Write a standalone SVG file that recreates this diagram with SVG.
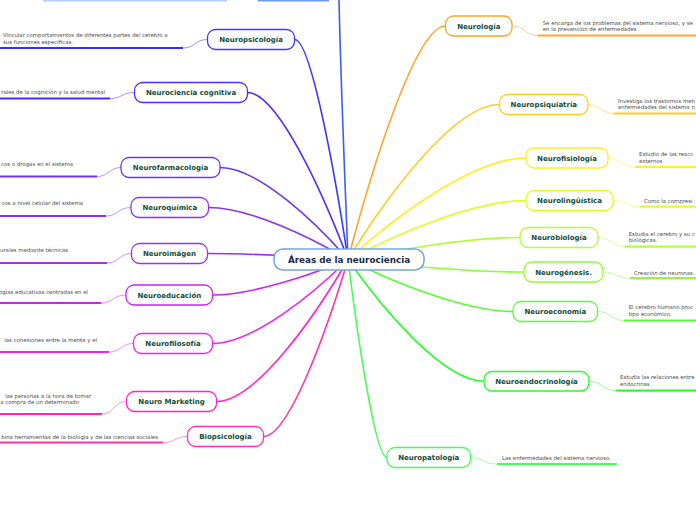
<svg xmlns="http://www.w3.org/2000/svg" width="696" height="520" viewBox="0 0 696 520">
<style>
.c{fill:none;stroke-width:1.6;stroke-linecap:round}
.u{fill:none;stroke-width:2}
.s{fill:none;stroke-width:1;opacity:0.5}
.n{fill:#fff;stroke-width:1.3}
.t{font-family:"DejaVu Sans",Verdana,sans-serif;font-weight:bold;font-size:7px;fill:#0f4c3a;text-anchor:middle}
.d{font-family:"DejaVu Sans",Verdana,sans-serif;font-size:5.4px;fill:#4a4a4a}
.e{text-anchor:end}
</style>
<rect width="696" height="520" fill="#fff"/>
<g id="connectors">
<path d="M43,0.7H227" stroke="#b5ccff" stroke-width="1.6" fill="none"/>
<path d="M258,0.7H329" stroke="#6f9bff" stroke-width="1.6" fill="none"/>
<path class="c" stroke="#3a5cff" d="M339,0 C341,90 345,180 348,259.5"/>
<path class="c" stroke="#3a3aff" d="M294.7,39.5 C310.7,39.5 334.7,171.5 348,259.5"/>
<path class="c" stroke="#4b2dff" d="M247.3,92.5 C277.5,92.5 322.8,192.7 348,259.5"/>
<path class="c" stroke="#6a35f5" d="M220,167.5 C258.4,167.5 316,222.7 348,259.5"/>
<path class="c" stroke="#8a33ee" d="M208.5,207.5 C250.4,207.5 313.1,238.7 348,259.5"/>
<path class="c" stroke="#a030ee" d="M207.5,253.5 C249.7,253.5 312.9,257.1 348,259.5"/>
<path class="c" stroke="#cc22ee" d="M212.5,295 C253.2,295 314.1,273.7 348,259.5"/>
<path class="c" stroke="#ee22ee" d="M212.5,343.5 C253.2,343.5 314.1,293.1 348,259.5"/>
<path class="c" stroke="#ff22cc" d="M216.5,401.5 C256,401.5 315.1,316.3 348,259.5"/>
<path class="c" stroke="#ff33aa" d="M263.5,436.5 C288.9,436.5 326.9,330.3 348,259.5"/>
<path class="c" stroke="#ffa526" d="M445.5,26 C416.25,26 372.4,166.3 348,259.5"/>
<path class="c" stroke="#ffcc22" d="M499.5,104.5 C454,104.5 385.9,197.5 348,259.5"/>
<path class="c" stroke="#ffee22" d="M526,158 C472.6,158 392.5,218.9 348,259.5"/>
<path class="c" stroke="#ddff22" d="M526,200.5 C472.6,200.5 392.5,235.9 348,259.5"/>
<path class="c" stroke="#b0ff33" d="M520,237.5 C468.4,237.5 391,250.7 348,259.5"/>
<path class="c" stroke="#88ff33" d="M524,272 C471.2,272 392,264.5 348,259.5"/>
<path class="c" stroke="#55ff33" d="M513,311.5 C463.5,311.5 389.3,280.3 348,259.5"/>
<path class="c" stroke="#22ff22" d="M484,381.3 C443.2,381.3 382,308.2 348,259.5"/>
<path class="c" stroke="#44ff55" d="M387,457.5 C375.3,457.5 357.8,338.7 348,259.5"/>
<!-- description links left -->
<path class="u" stroke="#3333ee" d="M0,48H183"/><path class="s" stroke="#3333ee" d="M183,48 C195,48 195,39.5 207.5,39.5"/>
<path class="u" stroke="#4b2dff" d="M0,98.5H110"/><path class="s" stroke="#4b2dff" d="M110,98.5 C122,98.5 122,92.5 134.5,92.5"/>
<path class="u" stroke="#6a35f5" d="M0,176.5H97"/><path class="s" stroke="#6a35f5" d="M97,176.5 C109,176.5 109,167.5 121,167.5"/>
<path class="u" stroke="#8a33ee" d="M0,216H106"/><path class="s" stroke="#8a33ee" d="M106,216 C118,216 118,207.5 131,207.5"/>
<path class="u" stroke="#a030ee" d="M0,263H107"/><path class="s" stroke="#a030ee" d="M107,263 C119,263 119,253.5 131.5,253.5"/>
<path class="u" stroke="#cc22ee" d="M0,303H101"/><path class="s" stroke="#cc22ee" d="M101,303 C113,303 113,295 126,295"/>
<path class="u" stroke="#ee22ee" d="M0,352H109"/><path class="s" stroke="#ee22ee" d="M109,352 C121,352 121,343.5 133.5,343.5"/>
<path class="u" stroke="#ff22cc" d="M0,414H102"/><path class="s" stroke="#ff22cc" d="M102,414 C114,414 114,401.5 126.5,401.5"/>
<path class="u" stroke="#ff33aa" d="M0,442.5H163"/><path class="s" stroke="#ff33aa" d="M163,442.5 C175,442.5 175,436.5 187.5,436.5"/>
<!-- description links right -->
<path class="s" stroke="#ffa526" d="M512,26 C525,26 525,35.5 538,35.5"/><path class="u" stroke="#ffa526" d="M538,35.5H696"/>
<path class="s" stroke="#ffcc22" d="M588,104.5 C601,104.5 601,113.5 614,113.5"/><path class="u" stroke="#ffcc22" d="M614,113.5H696"/>
<path class="s" stroke="#ffee22" d="M608,158 C621,158 621,167 635,167"/><path class="u" stroke="#ffee22" d="M635,167H696"/>
<path class="s" stroke="#ddff22" d="M613,200.5 C626,200.5 626,206.5 640,206.5"/><path class="u" stroke="#ddff22" d="M640,206.5H696"/>
<path class="s" stroke="#b0ff33" d="M598,237.5 C611,237.5 611,246.5 625,246.5"/><path class="u" stroke="#b0ff33" d="M625,246.5H696"/>
<path class="s" stroke="#88ff33" d="M603,272 C616,272 616,278 630,278"/><path class="u" stroke="#88ff33" d="M630,278H696"/>
<path class="s" stroke="#55ff33" d="M597.5,311.5 C611,311.5 611,320.5 624,320.5"/><path class="u" stroke="#55ff33" d="M624,320.5H696"/>
<path class="s" stroke="#22ff22" d="M589,381.3 C602,381.3 602,390.5 616,390.5"/><path class="u" stroke="#22ff22" d="M616,390.5H696"/>
<path class="s" stroke="#44ff55" d="M470.5,457.5 C483,457.5 483,464 497,464"/><path class="u" stroke="#44ff55" d="M497,464H617"/>
</g>
<g id="center">
<rect x="274" y="249" width="150" height="21" rx="9" fill="#fff" stroke="#6fa8dc" stroke-width="1.5"/>
<text x="349" y="262.6" style="font-family:'DejaVu Sans',Verdana,sans-serif;font-weight:bold;font-size:8.8px;fill:#1a2a4a;text-anchor:middle">Áreas de la neurociencia</text>
</g>
<g id="neuropsicologia">
<rect class="n" stroke="#3a3aff" x="207.5" y="29.5" width="87" height="20" rx="8"/>
<text class="t" x="251" y="42">Neuropsicología</text>
<text class="d" x="3" y="36.5">Vincular comportamientos de diferentes partes del cerebro a</text>
<text class="d" x="3" y="44">sus funciones específicas.</text>
</g>
<g id="neurociencia-cognitiva">
<rect class="n" stroke="#4b2dff" x="134.5" y="82.5" width="113" height="20" rx="8"/>
<text class="t" x="191" y="95">Neurociencia cognitiva</text>
<text class="d e" x="105" y="94.2">rales de la cognición y la salud mental</text>
</g>
<g id="neurofarmacologia">
<rect class="n" stroke="#6a35f5" x="121" y="157.5" width="99" height="20" rx="8"/>
<text class="t" x="170.5" y="170">Neurofarmacología</text>
<text class="d e" x="73" y="166.2">cos o drogas en el sistema</text>
</g>
<g id="neuroquimica">
<rect class="n" stroke="#8a33ee" x="131" y="197.5" width="77.5" height="20" rx="8"/>
<text class="t" x="169.8" y="210">Neuroquímica</text>
<text class="d e" x="83" y="204.6">cos a nivel celular del sistema</text>
</g>
<g id="neuroimagen">
<rect class="n" stroke="#a030ee" x="131.5" y="243.5" width="76" height="20" rx="8"/>
<text class="t" x="169.5" y="256">Neuroimágen</text>
<text class="d e" x="68" y="251.8">urales mediante técnicas</text>
</g>
<g id="neuroeducacion">
<rect class="n" stroke="#cc22ee" x="126" y="285" width="86.5" height="20" rx="8"/>
<text class="t" x="169.3" y="297.5">Neuroeducación</text>
<text class="d e" x="88" y="293.5">ogías educativas centradas en el</text>
</g>
<g id="neurofilosofia">
<rect class="n" stroke="#ee22ee" x="133.5" y="333.5" width="79" height="20" rx="8"/>
<text class="t" x="173" y="346">Neurofilosofía</text>
<text class="d e" x="97" y="341.8">las conexiones entre la mente y el</text>
</g>
<g id="neuro-marketing">
<rect class="n" stroke="#ff22cc" x="126.5" y="391.5" width="90" height="20" rx="8"/>
<text class="t" x="171.5" y="404">Neuro Marketing</text>
<text class="d e" x="91" y="397.5">las personas a la hora de tomar</text>
<text class="d e" x="79" y="403.5">a compra de un determinado</text>
</g>
<g id="biopsicologia">
<rect class="n" stroke="#ff33aa" x="187.5" y="426.5" width="76" height="20" rx="8"/>
<text class="t" x="225.5" y="439">Biopsicología</text>
<text class="d e" x="158" y="438.5">bina herramientas de la biología y de las ciencias sociales</text>
</g>
<g id="neurologia">
<rect class="n" stroke="#ffa526" x="445.5" y="16" width="66.5" height="20" rx="8"/>
<text class="t" x="478.8" y="28.5">Neurología</text>
<text class="d" x="542.7" y="25.2">Se encarga de los problemas del sistema nervioso, y se</text>
<text class="d" x="542.7" y="31.2">en la prevención de enfermedades</text>
</g>
<g id="neuropsiquiatria">
<rect class="n" stroke="#ffcc22" x="499.5" y="94.5" width="88.5" height="20" rx="8"/>
<text class="t" x="543.8" y="107">Neuropsiquiatría</text>
<text class="d" x="618" y="102.5">Investiga los trastornos men</text>
<text class="d" x="618" y="109.1">enfermedades del sistema n</text>
</g>
<g id="neurofisiologia">
<rect class="n" stroke="#ffee22" x="526" y="148" width="82" height="20" rx="8"/>
<text class="t" x="567" y="160.5">Neurofisiología</text>
<text class="d" x="639" y="156.1">Estudio de las reacc</text>
<text class="d" x="639" y="162.8">externos</text>
</g>
<g id="neurolinguistica">
<rect class="n" stroke="#ddff22" x="526" y="190.5" width="87" height="20" rx="8"/>
<text class="t" x="569.5" y="203">Neurolingüística</text>
<text class="d" x="644" y="202.5">Como la compresi</text>
</g>
<g id="neurobiologia">
<rect class="n" stroke="#b0ff33" x="520" y="227.5" width="78" height="20" rx="8"/>
<text class="t" x="559" y="240">Neurobiología</text>
<text class="d" x="628.7" y="235.8">Estudia el cerebro y su c</text>
<text class="d" x="628.7" y="241.8">biológicas.</text>
</g>
<g id="neurogenesis">
<rect class="n" stroke="#88ff33" x="524" y="262" width="79" height="20" rx="8"/>
<text class="t" x="563.5" y="274.5">Neurogénesis.</text>
<text class="d" x="634" y="274.5">Creación de neuronas.</text>
</g>
<g id="neuroeconomia">
<rect class="n" stroke="#55ff33" x="513" y="301.5" width="84.5" height="20" rx="8"/>
<text class="t" x="555.3" y="314">Neuroeconomía</text>
<text class="d" x="628.7" y="309.1">El cerebro humano proc</text>
<text class="d" x="628.7" y="315.8">tipo económico.</text>
</g>
<g id="neuroendocrinologia">
<rect class="n" stroke="#22ff22" x="484" y="371.5" width="105" height="19.5" rx="8"/>
<text class="t" x="536.5" y="383.8">Neuroendocrinología</text>
<text class="d" x="620" y="379.1">Estudia las relaciones entre</text>
<text class="d" x="620" y="386.1">endocrinas.</text>
</g>
<g id="neuropatologia">
<rect class="n" stroke="#44ff55" x="387" y="447.5" width="83.5" height="20" rx="8"/>
<text class="t" x="428.8" y="460">Neuropatología</text>
<text class="d" x="502" y="459.5">Las enfermedades del sistema nervioso.</text>
</g>
</svg>
